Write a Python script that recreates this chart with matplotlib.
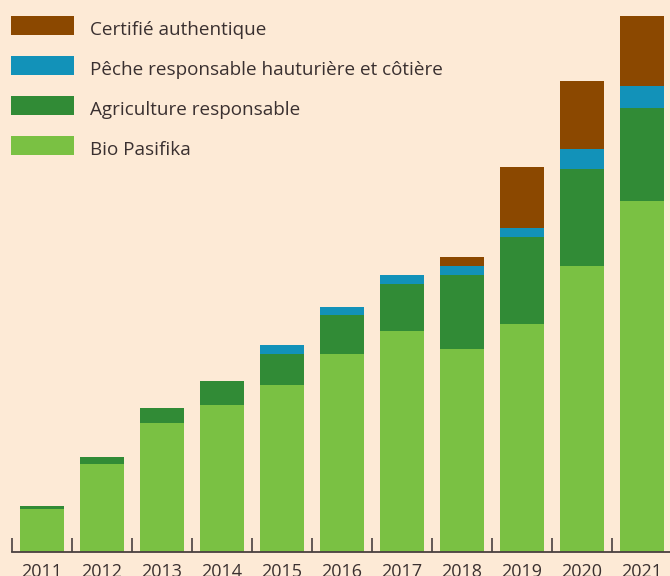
import matplotlib
matplotlib.use("Agg")
import matplotlib.pyplot as plt
from matplotlib.patches import Rectangle

years = ["2011", "2012", "2013", "2014", "2015", "2016", "2017", "2018", "2019", "2020", "2021"]
bio_pasifika = [42.5, 87.5, 128.5, 146.5, 166.5, 197.5, 220.5, 202.5, 227.5, 285.5, 350.5]
agriculture = [3, 7, 15, 24, 31, 39, 47, 74, 87, 97, 93.5]
peche = [0, 0, 0, 0, 9, 8, 9, 9, 9, 20, 21.5]
certifie = [0, 0, 0, 0, 0, 0, 0, 9, 61, 68, 70]

series_names = ["Bio Pasifika", "Agriculture responsable",
                "Pêche responsable hauturière et côtière", "Certifié authentique"]
colors = ["#7ac143", "#318b36", "#1292b9", "#8b4800"]
series = [bio_pasifika, agriculture, peche, certifie]

W, H = 670, 576
bg = "#fdead6"
txt = "#3a3030"
fig = plt.figure(figsize=(W / 100, H / 100), dpi=100, facecolor=bg)
base_px = 551.5
ax = fig.add_axes([12 / W, (H - base_px) / H, 1 - 12 / W, base_px / H])
ax.set_facecolor(bg)

x = list(range(len(years)))
bottom = [0.0] * len(years)
for vals, col in zip(series, colors):
    ax.bar(x, vals, bottom=bottom, width=44 / 60, color=col, linewidth=0)
    bottom = [b + v for b, v in zip(bottom, vals)]

ax.set_xlim(-0.5, (670 - 42) / 60)
ax.set_ylim(0, base_px)
for s in ["top", "right", "left"]:
    ax.spines[s].set_visible(False)
ax.spines["bottom"].set_color("#4a4040")
ax.spines["bottom"].set_linewidth(1.3)
ax.set_yticks([])
ax.set_xticks([i - 0.5 for i in range(len(years))])
ax.set_xticklabels([])
ax.set_xticks(x, minor=True)
ax.set_xticklabels(years, minor=True, fontsize=13, color=txt, family="Open Sans")
ax.tick_params(axis="x", which="major", direction="in", length=10, width=1.2, color="#4a4040")
ax.tick_params(axis="x", which="minor", length=0, pad=8)

# legend (top to bottom)
leg_names = series_names[::-1]
leg_colors = colors[::-1]
for i, (name, col) in enumerate(zip(leg_names, leg_colors)):
    yc = 25.5 + 40 * i
    fig.patches.append(Rectangle((11 / W, 1 - (yc + 9.5) / H), 63 / W, 19 / H,
                                 transform=fig.transFigure, facecolor=col, linewidth=0))
    fig.text(90 / W, 1 - (35 + 40 * i) / H, name, fontsize=13.6, color=txt,
             family="Open Sans", va="baseline", ha="left")

fig.savefig("out.png", dpi=100, facecolor=bg)
